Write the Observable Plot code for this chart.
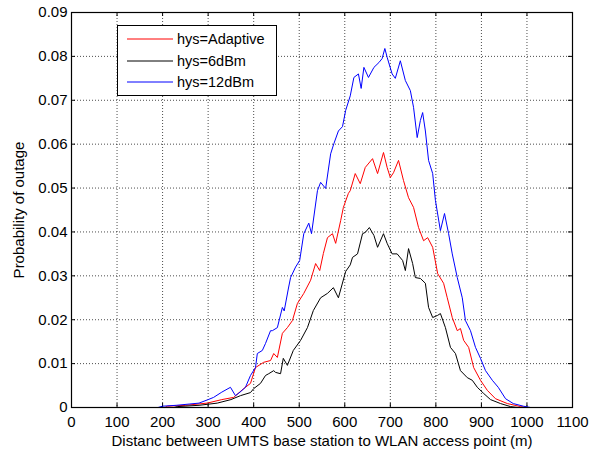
<!DOCTYPE html>
<html>
<head>
<meta charset="utf-8">
<script src="https://cdn.jsdelivr.net/npm/d3@7"></script>
<script src="https://cdn.jsdelivr.net/npm/@observablehq/plot@0.6"></script>
<style>
  body { margin: 0; background: white; }
  #chart { position: relative; width: 589px; height: 452px; }
</style>
</head>
<body>
<div id="chart"></div>
<script>
const seriesNames = ["hys=Adaptive", "hys=6dBm", "hys=12dBm"];
const seriesColors = ["#ff0000", "#000000", "#0000ff"];
const xTicks = [0, 100, 200, 300, 400, 500, 600, 700, 800, 900, 1000, 1100];
const yTicks = [0, 0.01, 0.02, 0.03, 0.04, 0.05, 0.06, 0.07, 0.08, 0.09];
const yTickLabels = ["0", "0.01", "0.02", "0.03", "0.04", "0.05", "0.06", "0.07", "0.08", "0.09"];

const adaptiveX = [0, 205, 211, 250, 298, 330, 356, 378, 393, 404, 422, 437, 444, 452, 463, 474, 485, 496, 510, 525, 536, 545, 553, 562, 573, 580, 591, 597, 608, 612, 623, 634, 645, 661, 672, 685, 693, 700, 707, 718, 729, 740, 751, 762, 773, 782, 793, 804, 817, 825, 836, 847, 854, 861, 872, 883, 898, 913, 931, 957, 986, 1000, 1100];
const adaptiveY = [0, 0, 0.0003, 0.0005, 0.001, 0.0018, 0.0023, 0.0043, 0.0055, 0.0091, 0.0103, 0.0107, 0.0123, 0.0114, 0.0169, 0.0182, 0.0198, 0.0237, 0.026, 0.029, 0.0328, 0.0312, 0.0351, 0.0387, 0.0396, 0.0374, 0.0426, 0.0456, 0.0488, 0.0494, 0.0533, 0.051, 0.0547, 0.0567, 0.0533, 0.0581, 0.0547, 0.0524, 0.0535, 0.0563, 0.0517, 0.0478, 0.0456, 0.041, 0.038, 0.0387, 0.0365, 0.0305, 0.0283, 0.025, 0.0205, 0.0175, 0.018, 0.0153, 0.0137, 0.0091, 0.0062, 0.0039, 0.002, 0.0009, 0.0002, 0, 0];

const dbm6X = [0, 225, 232, 280, 320, 350, 371, 393, 400, 415, 426, 433, 444, 448, 459, 465, 474, 487, 503, 518, 531, 547, 562, 575, 586, 602, 612, 617, 628, 639, 645, 654, 664, 672, 685, 693, 704, 715, 727, 733, 740, 749, 755, 766, 777, 784, 793, 804, 810, 821, 832, 843, 854, 869, 880, 891, 905, 920, 942, 964, 980, 1100];
const dbm6Y = [0, 0, 0.0002, 0.0005, 0.001, 0.0018, 0.0027, 0.0034, 0.0043, 0.0055, 0.0073, 0.0077, 0.0084, 0.008, 0.0077, 0.0112, 0.0096, 0.013, 0.0153, 0.0182, 0.0221, 0.025, 0.026, 0.0273, 0.025, 0.031, 0.0325, 0.0342, 0.035, 0.0396, 0.0399, 0.041, 0.0392, 0.0365, 0.0396, 0.0374, 0.035, 0.035, 0.0335, 0.0312, 0.0362, 0.0328, 0.0296, 0.0294, 0.0283, 0.0228, 0.0205, 0.021, 0.0214, 0.0182, 0.0137, 0.0123, 0.0084, 0.0068, 0.0062, 0.0046, 0.0032, 0.0018, 0.0009, 0.0002, 0, 0];

const dbm12X = [0, 190, 200, 230, 260, 280, 300, 312, 330, 349, 360, 370, 382, 393, 404, 408, 419, 426, 437, 441, 452, 463, 467, 476, 481, 492, 501, 510, 521, 527, 540, 547, 558, 569, 576, 586, 595, 602, 612, 620, 630, 636, 642, 652, 664, 675, 682, 688, 693, 704, 711, 722, 733, 744, 751, 759, 766, 771, 777, 784, 793, 799, 810, 819, 828, 836, 847, 858, 865, 876, 887, 898, 909, 924, 937, 953, 970, 992, 1008, 1100];
const dbm12Y = [0, 0, 0.0003, 0.0005, 0.0008, 0.001, 0.0018, 0.0023, 0.0035, 0.0046, 0.0027, 0.0035, 0.0046, 0.0073, 0.0091, 0.0123, 0.013, 0.0146, 0.0175, 0.0175, 0.0182, 0.0228, 0.022, 0.027, 0.0296, 0.032, 0.0335, 0.0396, 0.042, 0.0396, 0.0494, 0.0513, 0.0499, 0.0578, 0.0601, 0.063, 0.064, 0.0677, 0.071, 0.0752, 0.076, 0.0727, 0.0775, 0.0752, 0.0775, 0.0786, 0.0795, 0.0818, 0.0798, 0.076, 0.075, 0.079, 0.0745, 0.0722, 0.0684, 0.0615, 0.0654, 0.0672, 0.063, 0.0563, 0.0533, 0.0472, 0.0403, 0.0442, 0.0396, 0.035, 0.0296, 0.025, 0.0198, 0.0175, 0.0137, 0.0112, 0.0084, 0.0062, 0.0046, 0.002, 0.0009, 0.0003, 0, 0];

const xLabel = "Distanc between UMTS base station to WLAN access point (m)";
const yLabel = "Probability of outage";

function toRows(xs, ys, name) { return xs.map((x, i) => ({x, y: ys[i], name})); }
const adaptiveRows = toRows(adaptiveX, adaptiveY, seriesNames[0]);
const dbm6Rows = toRows(dbm6X, dbm6Y, seriesNames[1]);
const dbm12Rows = toRows(dbm12X, dbm12Y, seriesNames[2]);

const tickLenY = 0.09 * 4 / 395;
const tickLenX = 1100 * 4 / 501;

const plot = Plot.plot({
  width: 589,
  height: 452,
  marginLeft: 71,
  marginRight: 17,
  marginTop: 12,
  marginBottom: 45,
  style: {fontFamily: "'Liberation Sans', Arial, sans-serif", fontSize: "14.3px", background: "white", color: "black"},
  x: {domain: [0, 1100]},
  y: {domain: [0, 0.09]},
  marks: [
    Plot.gridX(xTicks, {stroke: "#000", strokeOpacity: 0.7, strokeDasharray: "1,2"}),
    Plot.gridY(yTicks, {stroke: "#000", strokeOpacity: 0.7, strokeDasharray: "1,2"}),
    Plot.ruleX(xTicks, {y1: 0, y2: tickLenY, stroke: "#000"}),
    Plot.ruleX(xTicks, {y1: 0.09, y2: 0.09 - tickLenY, stroke: "#000"}),
    Plot.ruleY(yTicks, {x1: 0, x2: tickLenX, stroke: "#000"}),
    Plot.ruleY(yTicks, {x1: 1100, x2: 1100 - tickLenX, stroke: "#000"}),
    Plot.line(adaptiveRows, {x: "x", y: "y", stroke: seriesColors[0], strokeWidth: 1}),
    Plot.line(dbm6Rows, {x: "x", y: "y", stroke: seriesColors[1], strokeWidth: 1}),
    Plot.line(dbm12Rows, {x: "x", y: "y", stroke: seriesColors[2], strokeWidth: 1}),
    Plot.frame({stroke: "#000", strokeWidth: 1.2}),
    Plot.axisX(xTicks, {tickSize: 0, tickPadding: 9, fontSize: 15, tickFormat: d => String(d), label: xLabel, labelAnchor: "center", labelArrow: "none", labelOffset: 38}),
    Plot.axisY(yTicks, {tickSize: 0, tickPadding: 4, fontSize: 15, tickFormat: (d, i) => yTickLabels[i], label: yLabel, labelAnchor: "center", labelArrow: "none", labelOffset: 58})
  ]
});
document.getElementById("chart").appendChild(plot);

// legend
const svg = d3.select(plot);
const lg = svg.append("g").attr("font-family", "'Liberation Sans', Arial, sans-serif").attr("font-size", 14.5).attr("text-anchor", "start");
lg.append("rect").attr("x", 117.5).attr("y", 25.5).attr("width", 159).attr("height", 70).attr("fill", "white").attr("stroke", "black");
const rowY = [39, 61, 82];
seriesNames.forEach((name, i) => {
  lg.append("line").attr("x1", 127).attr("x2", 173).attr("y1", rowY[i]).attr("y2", rowY[i]).attr("stroke", seriesColors[i]);
  lg.append("text").attr("x", 177).attr("y", rowY[i]).attr("dy", "0.35em").attr("fill", "black").attr("text-anchor", "start").text(name);
});
</script>
</body>
</html>
